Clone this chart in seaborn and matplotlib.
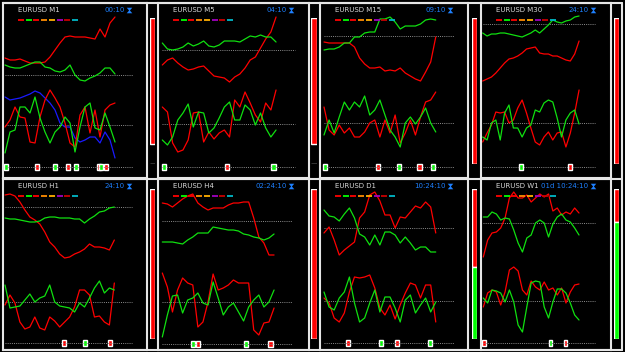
import numpy as np
import matplotlib
matplotlib.use("Agg")
import matplotlib.pyplot as plt
from matplotlib.lines import Line2D
import seaborn as sns

# ---- data (arbitrary level units) ----
names = ["EURUSD M1", "EURUSD M5", "EURUSD M15", "EURUSD M30",
         "EURUSD H1", "EURUSD H4", "EURUSD D1", "EURUSD W1"]
timers = ["00:10", "04:10", "09:10", "24:10",
          "24:10", "02:24:10", "10:24:10", "01d 10:24:10"]

m1_up_red = [119, 117, 117, 118, 116, 114, 114, 114, 115, 120, 127, 134, 140, 141, 140, 140, 140, 139, 138, 148, 140, 154, 160]
m1_up_green = [112, 110, 109, 109, 111, 113, 115, 115, 110, 109, 106, 105, 107, 112, 102, 97, 96, 99, 101, 104, 109, 109, 103]
m1_lo_blue = [80, 77, 78, 79, 81, 83, 86, 84, 79, 74, 67, 54, 50, 50, 39, 35, 37, 40, 40, 34, 45, 37, 19]
m1_lo_red = [50, 57, 70, 60, 59, 35, 34, 60, 77, 87, 79, 70, 54, 34, 30, 62, 70, 44, 67, 40, 67, 72, 74]
m1_lo_green = [24, 45, 47, 70, 70, 64, 80, 59, 45, 34, 45, 50, 60, 54, 25, 50, 70, 74, 49, 47, 64, 50, 35]

m5_up_red = [112, 117, 119, 114, 110, 107, 108, 110, 111, 106, 101, 100, 99, 95, 100, 103, 109, 117, 120, 129, 138, 145, 160]
m5_up_green = [134, 128, 127, 128, 130, 134, 131, 133, 136, 131, 130, 132, 136, 136, 136, 135, 138, 141, 140, 142, 140, 140, 135]
m5_lo_red = [70, 65, 34, 25, 27, 37, 64, 65, 35, 45, 38, 44, 47, 40, 77, 70, 85, 74, 62, 55, 74, 67, 87]
m5_lo_green = [37, 32, 40, 57, 64, 73, 50, 65, 64, 44, 49, 59, 70, 75, 57, 57, 72, 67, 52, 64, 49, 40, 47]

m15_up_red = [135, 134, 134, 134, 134, 134, 130, 119, 113, 109, 109, 110, 106, 107, 106, 109, 104, 101, 98, 96, 105, 115, 140]
m15_up_green = [127, 128, 128, 130, 134, 134, 140, 140, 144, 145, 145, 158, 158, 160, 155, 148, 151, 151, 151, 153, 157, 158, 157]
m15_lo_red = [70, 47, 42, 52, 44, 49, 40, 40, 45, 54, 57, 40, 57, 44, 62, 34, 44, 57, 42, 60, 75, 77, 85]
m15_lo_green = [42, 57, 44, 60, 75, 67, 75, 70, 81, 62, 67, 77, 62, 47, 40, 30, 54, 60, 53, 60, 69, 54, 45]

m30_up_red = [96, 98, 100, 104, 109, 114, 118, 119, 121, 124, 128, 129, 130, 124, 123, 123, 121, 121, 119, 117, 116, 123, 136]
m30_up_green = [144, 141, 143, 143, 144, 144, 143, 142, 141, 140, 142, 144, 147, 144, 148, 152, 157, 155, 154, 156, 157, 160, 161]
m30_lo_red = [35, 44, 52, 65, 64, 65, 54, 57, 69, 77, 64, 49, 35, 32, 40, 45, 37, 44, 45, 30, 44, 64, 87]
m30_lo_green = [40, 37, 54, 57, 37, 64, 72, 49, 49, 40, 49, 52, 67, 65, 74, 77, 75, 59, 40, 57, 64, 67, 53]

h1_up_red = [153, 154, 152, 146, 138, 131, 128, 124, 116, 106, 101, 94, 90, 91, 94, 96, 99, 104, 101, 101, 100, 98, 108]
h1_up_green = [130, 129, 129, 128, 127, 126, 126, 127, 130, 131, 131, 130, 130, 130, 129, 129, 125, 129, 132, 136, 137, 140, 141]
h1_lo_red = [43, 53, 45, 26, 19, 21, 31, 20, 18, 31, 27, 21, 26, 31, 41, 58, 58, 53, 31, 32, 26, 23, 65]
h1_lo_green = [63, 40, 41, 42, 48, 54, 46, 50, 52, 63, 46, 42, 41, 40, 36, 45, 41, 50, 60, 67, 55, 60, 58]

h4_up_red = [145, 144, 141, 145, 149, 152, 154, 145, 141, 138, 140, 140, 140, 143, 145, 145, 146, 146, 130, 111, 105, 93, 93]
h4_up_green = [106, 106, 106, 105, 104, 108, 111, 115, 115, 115, 121, 120, 119, 118, 118, 117, 114, 113, 111, 110, 108, 110, 114]
h4_lo_red = [75, 61, 36, 58, 70, 65, 63, 21, 26, 46, 74, 58, 60, 63, 68, 65, 65, 65, 18, 13, 25, 26, 40]
h4_lo_green = [11, 33, 52, 53, 35, 48, 50, 55, 45, 43, 66, 50, 33, 41, 45, 36, 27, 41, 48, 53, 41, 46, 58]

d1_up_red = [115, 121, 108, 93, 98, 102, 106, 130, 136, 153, 156, 147, 133, 133, 120, 131, 130, 136, 142, 140, 146, 141, 115]
d1_up_green = [138, 132, 131, 127, 134, 140, 130, 114, 111, 103, 113, 103, 116, 116, 113, 105, 111, 105, 98, 101, 101, 96, 96]
d1_lo_red = [50, 45, 30, 26, 35, 56, 71, 70, 71, 73, 60, 40, 33, 43, 29, 43, 55, 65, 63, 50, 63, 63, 26]
d1_lo_green = [56, 41, 38, 50, 56, 71, 45, 26, 30, 45, 58, 36, 51, 51, 40, 26, 48, 53, 35, 43, 50, 36, 46]

w1_up_red = [91, 108, 115, 116, 120, 130, 150, 156, 150, 150, 153, 146, 150, 154, 151, 154, 137, 140, 133, 136, 134, 140, 135]
w1_up_green = [131, 131, 136, 134, 128, 130, 129, 118, 105, 96, 110, 113, 125, 128, 125, 111, 124, 131, 134, 128, 126, 120, 113]
w1_lo_red = [41, 55, 58, 56, 43, 56, 78, 81, 77, 58, 53, 67, 61, 58, 66, 58, 60, 53, 60, 45, 56, 63, 64]
w1_lo_green = [50, 45, 58, 57, 55, 46, 58, 46, 23, 16, 41, 65, 67, 66, 41, 30, 46, 59, 59, 55, 45, 33, 28]

# dotted reference levels: upper, lower, signal row
levels = [(102, 52, 10), (127, 53, 10), (141, 54, 10), (153, 54, 10),
          (141, 46, 5), (127, 46, 4), (120, 47, 5), (125, 47, 5)]

# signal boxes: bar index and type (b=buy/green, s=sell/red)
sig_pos = [[0.2, 6.3, 9.9, 12.5, 14.1, 18.7, 19.1, 20.2],
           [0.4, 12.5, 21.5],
           [0.2, 10.7, 14.8, 18.8, 21.4],
           [8.75, 19.9],
           [11.9, 16.1, 21.1],
           [6.1, 7.1, 16.4, 21.3],
           [4.7, 11.2, 14.3, 20.9],
           [0.15, 15.5, 18.9]]
sig_type = [["b", "s", "b", "s", "b", "s", "b", "s"],
            ["b", "s", "b"],
            ["b", "s", "b", "s", "b"],
            ["b", "s"],
            ["s", "b", "s"],
            ["b", "s", "b", "s"],
            ["s", "b", "s", "b"],
            ["s", "b", "s"]]

# strength bars on the right of each panel (percent)
sell_pct = [86, 86, 100, 100, 100, 100, 52, 22]
buy_pct = [0, 0, 0, 0, 0, 0, 48, 78]

RED = "#ff0000"
GREEN = "#10e010"
BLUE = "#1a1aff"
TIMER = "#1e80ff"
dash_colors = [RED, "#00ff00", RED, "#ff8c00", "#ffb000", "#a000c0", "#c80000", "#00b8c8"]

upper = [(m1_up_red, m1_up_green), (m5_up_red, m5_up_green), (m15_up_red, m15_up_green),
         (m30_up_red, m30_up_green), (h1_up_red, h1_up_green), (h4_up_red, h4_up_green),
         (d1_up_red, d1_up_green), (w1_up_red, w1_up_green)]
lower = [(m1_lo_red, m1_lo_green), (m5_lo_red, m5_lo_green), (m15_lo_red, m15_lo_green),
         (m30_lo_red, m30_lo_green), (h1_lo_red, h1_lo_green), (h4_lo_red, h4_lo_green),
         (d1_lo_red, d1_lo_green), (w1_lo_red, w1_lo_green)]

# ---- layout (pixels) ----
W, H = 625, 352
cols = [(3, 147), (158, 309), (320, 468), (481, 611)]
rows = [(3, 178, 177), (179, 350, 348)]   # top, bottom, base level
x_start = [5, 162.3, 324, 482.7, 5, 162.3, 324, 483.3]
x_step = [5, 5.17, 5.08, 4.38, 4.97, 5.08, 5.08, 4.35]
bar_cols = [(150, 155), (311, 317), (472, 477), (614, 619)]
bar_rows = [(18, 164), (189, 339)]

# hourglass icon (no installed font has the glyph), drawn as a marker
hourglass = [(-1, 1), (1, 1), (0.15, 0), (1, -1), (-1, -1), (-0.15, 0), (-1, 1)]

sns.set_style("dark")
plt.rcParams['font.family'] = ['DejaVu Sans']

fig = plt.figure(figsize=(6.25, 3.52), dpi=100, facecolor="black")


def px_axes(x0, x1, y0, y1):
    return fig.add_axes([x0 / W, 1 - y1 / H, (x1 - x0) / W, (y1 - y0) / H])


for i in range(8):
    r, c = divmod(i, 4)
    x0, x1 = cols[c]
    y0, y1, base = rows[r]
    wpx, hpx = x1 - x0, y1 - y0
    ax = px_axes(x0, x1, y0, y1)
    ax.set_facecolor("black")
    idx = np.arange(23)

    up_lvl, lo_lvl, sig_lvl = levels[i]
    for lvl in (up_lvl, lo_lvl, sig_lvl):
        ax.hlines(lvl, 0, 25.6, colors="#8c8c8c", linestyles=(0, (1, 1.2)), lw=0.7)

    if i == 0:
        sns.lineplot(x=idx, y=m1_lo_blue, ax=ax, color=BLUE, lw=0.9)
    sns.lineplot(x=idx, y=upper[i][0], ax=ax, color=RED, lw=0.9)
    sns.lineplot(x=idx, y=upper[i][1], ax=ax, color=GREEN, lw=0.9)
    sns.lineplot(x=idx, y=lower[i][0], ax=ax, color=RED, lw=0.9)
    sns.lineplot(x=idx, y=lower[i][1], ax=ax, color=GREEN, lw=0.9)

    sc = [RED if t == "s" else "#00ff00" for t in sig_type[i]]
    ax.bar(sig_pos[i], 6, bottom=sig_lvl - 3, width=0.8, color=sc)

    ax.set_xlim((x0 - x_start[i]) / x_step[i], (x1 - x_start[i]) / x_step[i])
    ax.set_ylim(base - y1, base - y0)
    ax.set_xticks([])
    ax.set_yticks([])
    ax.set_xlabel("")
    ax.set_ylabel("")
    ax.grid(False)
    for s in ax.spines.values():
        s.set_color("#e6e6e6")
        s.set_linewidth(1.5)

    ty = 1 - 6.5 / hpx
    ax.text(15 / wpx, ty, names[i], color="#d8d8d8", fontsize=5, va="center",
            transform=ax.transAxes)
    ax.text(1 - 22.5 / wpx, ty, timers[i], color=TIMER, fontsize=5, va="center",
            ha="right", transform=ax.transAxes)
    ax.plot(1 - 18.5 / wpx, ty, marker=hourglass, ms=4, mew=0, color=TIMER,
            transform=ax.transAxes)
    for k, dc in enumerate(dash_colors):
        ax.plot((18 + 7.7 * k) / wpx, 1 - 16.5 / hpx, marker="_", ms=4, mew=1.3,
                color=dc, transform=ax.transAxes)

    # strength bar
    bx0, bx1 = bar_cols[c]
    by0, by1 = bar_rows[r]
    bx = px_axes(bx0, bx1, by0, by1)
    bx.axis("off")
    bx.bar(0, sell_pct[i], bottom=100 - sell_pct[i], width=1, color=RED)
    bx.bar(0, buy_pct[i], bottom=0, width=1, color="#00ff00")
    bx.set_xlim(-0.5, 0.5)
    bx.set_ylim(0, 100)

# outer frame lines
for y in (3, 178.5, 350):
    fig.add_artist(Line2D([3 / W, 622 / W], [1 - y / H, 1 - y / H],
                          transform=fig.transFigure, color="#e6e6e6", lw=1.5))
fig.add_artist(Line2D([622 / W, 622 / W], [1 - 3 / H, 1 - 350 / H],
                      transform=fig.transFigure, color="#e6e6e6", lw=1.5))

fig.savefig("out.png", dpi=100, facecolor="black")
